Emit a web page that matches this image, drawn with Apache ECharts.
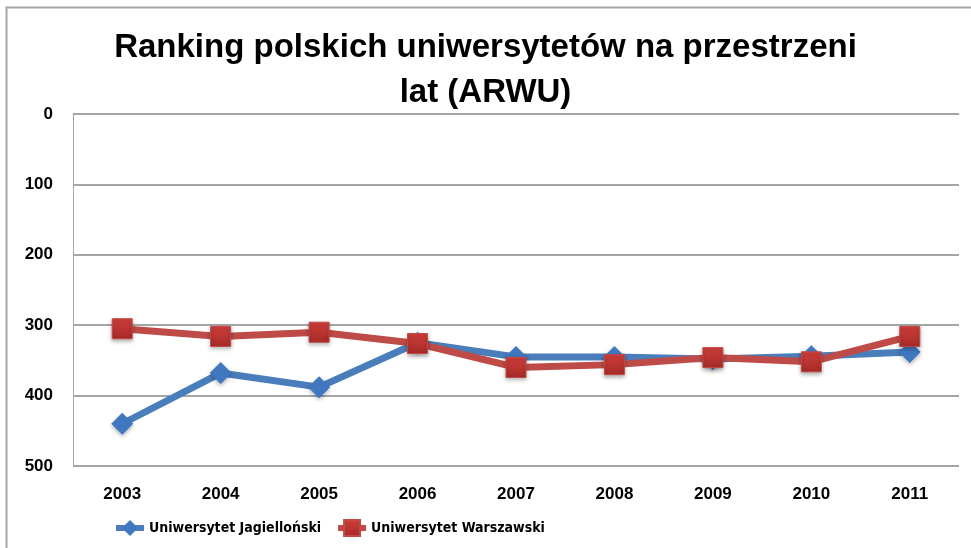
<!DOCTYPE html>
<html>
<head>
    <meta charset="utf-8"/>
    <style>
        html, body { margin: 0; padding: 0; background: #fff; }
        #chart { width: 971px; height: 548px; }
    </style>
    <script src="https://cdn.jsdelivr.net/npm/echarts@6/dist/echarts.min.js"></script>
</head>
<body>
<div id="chart"></div>
<script>
    // dane
    var years = ['2003', '2004', '2005', '2006', '2007', '2008', '2009', '2010', '2011'];
    var uj = [440, 368, 388, 325, 345, 345, 348, 344, 338];
    var uw = [305, 316, 310, 326, 360, 356, 346, 352, 316];
    var yTicks = [0, 100, 200, 300, 400, 500];

    var font = '"Liberation Sans", Arial, sans-serif';
    var chart = echarts.init(document.getElementById('chart'));

    chart.setOption({
        animation: false,
        backgroundColor: '#fff',
        textStyle: { fontFamily: font },
        title: {
            text: 'Ranking polskich uniwersytetów na przestrzeni\nlat (ARWU)',
            left: 'center',
            top: 20,
            textStyle: { fontSize: 33, fontWeight: 'bold', color: '#000', lineHeight: 45, fontFamily: font }
        },
        graphic: [{
            type: 'rect',
            shape: { x: 6.5, y: 7.5, width: 990, height: 560 },
            style: { fill: 'none', stroke: '#a6a6a6', lineWidth: 2 },
            silent: true
        }],
        legend: {
            left: 108,
            top: 514,
            itemWidth: 28,
            itemHeight: 20,
            itemGap: 14,
            lineStyle: { width: 6 },
            textStyle: {
                fontSize: 14, fontWeight: 'bold', color: '#000',
                fontFamily: '"DejaVu Sans Condensed", "Liberation Sans", sans-serif'
            },
            data: ['Uniwersytet Jagielloński', 'Uniwersytet Warszawski']
        },
        grid: { left: 73, right: 12, top: 114, bottom: 82 },
        xAxis: {
            type: 'category',
            data: years,
            boundaryGap: true,
            axisLine: { lineStyle: { color: '#a6a6a6', width: 1 } },
            axisTick: { show: false },
            axisLabel: { fontSize: 17, fontWeight: 'bold', color: '#000', margin: 20 }
        },
        yAxis: {
            type: 'value',
            inverse: true,
            min: yTicks[0],
            max: yTicks[yTicks.length - 1],
            interval: 100,
            axisLine: { show: true, lineStyle: { color: '#a6a6a6' } },
            axisTick: { show: false },
            axisLabel: { fontSize: 17, fontWeight: 'bold', color: '#000', margin: 20 },
            splitLine: { lineStyle: { color: '#878787', width: 1.5 } }
        },
        series: [{
            name: 'Uniwersytet Jagielloński',
            type: 'line',
            data: uj,
            symbol: 'diamond',
            symbolSize: 22,
            lineStyle: { color: '#4a7ebb', width: 7 },
            itemStyle: { color: '#3f77c0', shadowColor: 'rgba(0,0,0,0.3)', shadowBlur: 4, shadowOffsetY: 2 },
            z: 2
        }, {
            name: 'Uniwersytet Warszawski',
            type: 'line',
            data: uw,
            symbol: 'rect',
            symbolSize: 20,
            lineStyle: { color: '#be4b48', width: 7 },
            itemStyle: {
                color: new echarts.graphic.LinearGradient(0, 0, 0, 1, [
                    { offset: 0, color: '#d13f3b' },
                    { offset: 1, color: '#a52a27' }
                ]),
                borderColor: '#c24a47',
                borderWidth: 1,
                shadowColor: 'rgba(0,0,0,0.3)', shadowBlur: 4, shadowOffsetY: 2
            },
            z: 3
        }]
    });

    window.onresize = function () {
        chart.resize();
    };
</script>
</body>
</html>
